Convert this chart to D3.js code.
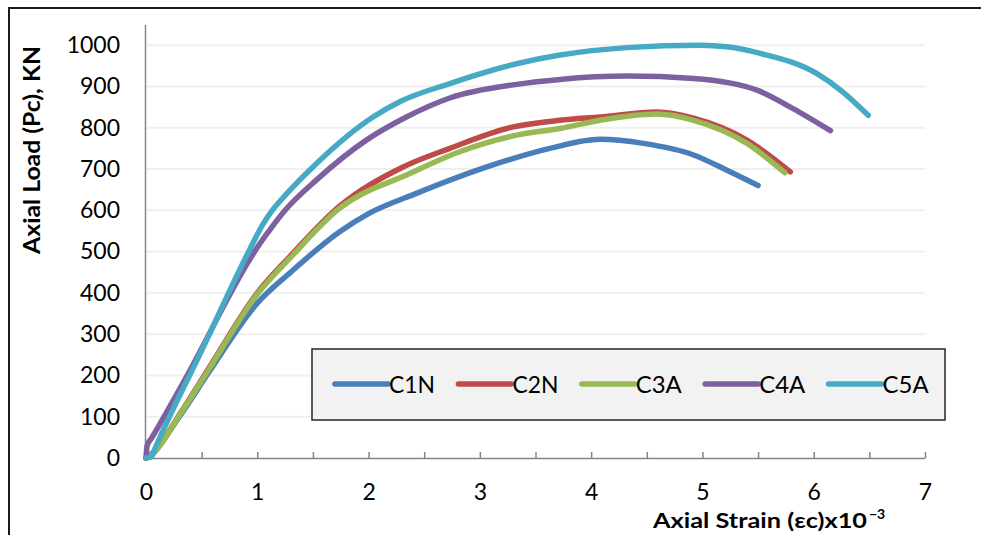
<!DOCTYPE html>
<html>
<head>
<meta charset="utf-8">
<script src="https://cdn.jsdelivr.net/npm/d3@7/dist/d3.min.js"></script>
<style>
  html, body { margin: 0; padding: 0; background: #fff; }
  svg { display: block; }
  text { font-family: Lato, "Open Sans", sans-serif; fill: #000; }
</style>
</head>
<body>
<svg id="chart" width="981" height="535"></svg>
<script>
// Axial strain (x10^-3) and axial load (kN) for each column specimen
const seriesNames = ["C1N", "C2N", "C3A", "C4A", "C5A"];
const seriesColors = ["#4a7ebb", "#be4b48", "#98b954", "#7d60a0", "#46aac5"];

const c1nStrain = [0, 0.05, 0.3, 0.57, 1.0, 1.3, 1.74, 2.0, 2.43, 3.03, 3.63, 4.08, 4.47, 4.92, 5.22, 5.5];
const c1nLoad   = [0, 10, 100, 210, 375, 450, 548, 592, 641, 702, 750, 772, 762, 734, 697, 660];

const c2nStrain = [0, 0.05, 0.3, 0.57, 1.0, 1.3, 1.74, 2.31, 2.73, 3.3, 3.72, 4.08, 4.59, 4.92, 5.4, 5.79];
const c2nLoad   = [0, 8, 105, 220, 400, 490, 610, 705, 750, 802, 818, 826, 838, 823, 770, 693];

const c3aStrain = [0, 0.05, 0.3, 0.57, 1.0, 1.3, 1.74, 2.37, 2.8, 3.33, 3.72, 4.08, 4.59, 4.92, 5.4, 5.74];
const c3aLoad   = [0, 8, 103, 217, 397, 486, 605, 689, 740, 782, 798, 818, 833, 818, 762, 691];

const c4aStrain = [0, 0.01, 0.05, 0.35, 0.93, 1.0, 1.1, 1.25, 1.53, 1.98, 2.34, 2.73, 3.33, 3.72, 4.32, 4.92, 5.49, 5.81, 6.15];
const c4aLoad   = [0, 30, 48, 190, 480, 510, 548, 600, 673, 770, 826, 872, 905, 917, 925, 919, 891, 847, 793];

const c5aStrain = [0, 0.05, 0.08, 0.5, 0.93, 1.05, 1.13, 1.25, 1.53, 2.04, 2.28, 2.73, 3.33, 3.72, 4.32, 4.98, 5.22, 5.52, 6.03, 6.26, 6.49];
const c5aLoad   = [0, 3, 22, 260, 504, 566, 598, 636, 713, 826, 863, 907, 955, 976, 994, 1000, 996, 980, 931, 887, 830];

const strainTicks = [0, 0.5, 1, 1.5, 2, 2.5, 3, 3.5, 4, 4.5, 5, 5.5, 6, 6.5, 7];
const loadTicks = [0, 100, 200, 300, 400, 500, 600, 700, 800, 900, 1000];

const strainData = [c1nStrain, c2nStrain, c3aStrain, c4aStrain, c5aStrain];
const loadData = [c1nLoad, c2nLoad, c3aLoad, c4aLoad, c5aLoad];

const series = seriesNames.map((name, i) => ({
  name,
  color: seriesColors[i],
  points: strainData[i].map((s, j) => ({ s, p: loadData[i][j] }))
}));

const svg = d3.select("#chart");

const x = d3.scaleLinear().domain([0, 7]).range([146, 925]);
const y = d3.scaleLinear().domain([0, 1050]).range([458, 24.5]);

// Outer frame (top and left edges)
svg.append("path")
  .attr("d", "M9,535 L9,8 L981,8")
  .attr("fill", "none")
  .attr("stroke", "#1a1a1a")
  .attr("stroke-width", 2);

// Horizontal gridlines
svg.append("g")
  .selectAll("line")
  .data(loadTicks.filter(d => d > 0))
  .join("line")
  .attr("x1", x(0))
  .attr("x2", x(7))
  .attr("y1", d => y(d))
  .attr("y2", d => y(d))
  .attr("stroke", "#efefef")
  .attr("stroke-width", 2);

// Y axis
const yAxis = svg.append("g")
  .attr("transform", `translate(${x(0) - 1},0)`)
  .call(d3.axisLeft(y).tickValues(loadTicks).tickSize(0).tickPadding(25).tickFormat(d3.format("d")));
yAxis.select(".domain").attr("stroke", "#868686").attr("stroke-width", 1.5);
yAxis.selectAll("text").attr("font-size", 23).style("font-family", "Lato, sans-serif");

// X axis with half-unit tick marks pointing into the plot
const xAxis = svg.append("g")
  .attr("transform", `translate(0,${y(0)})`)
  .call(d3.axisBottom(x).tickValues(strainTicks).tickSizeInner(-6).tickSizeOuter(0).tickPadding(26)
    .tickFormat(d => Number.isInteger(d) ? d : ""));
xAxis.select(".domain").attr("stroke", "#868686").attr("stroke-width", 1.5);
xAxis.selectAll(".tick line").attr("stroke", "#868686").attr("stroke-width", 1.5);
xAxis.selectAll("text").attr("font-size", 23).style("font-family", "Lato, sans-serif");

// Load-strain curves
const line = d3.line()
  .x(d => x(d.s))
  .y(d => y(d.p))
  .curve(d3.curveMonotoneX);

svg.append("g")
  .selectAll("path")
  .data(series)
  .join("path")
  .attr("d", d => line(d.points))
  .attr("fill", "none")
  .attr("stroke", d => d.color)
  .attr("stroke-width", 5.5)
  .attr("stroke-linecap", "round")
  .attr("stroke-linejoin", "round");

// Legend
const legend = svg.append("g");
legend.append("rect")
  .attr("x", 312).attr("y", 349)
  .attr("width", 633).attr("height", 71)
  .attr("fill", "#f2f2f2")
  .attr("stroke", "#262626")
  .attr("stroke-width", 1.5);

const items = legend.selectAll("g.item")
  .data(series)
  .join("g")
  .attr("class", "item")
  .attr("transform", (d, i) => `translate(${335 + i * 123.4},384)`);
items.append("line")
  .attr("x1", 0).attr("x2", 53)
  .attr("y1", 0).attr("y2", 0)
  .attr("stroke", d => d.color)
  .attr("stroke-width", 5.5)
  .attr("stroke-linecap", "round");
items.append("text")
  .attr("x", 54)
  .attr("y", 8.5)
  .attr("font-size", 23)
  .attr("textLength", 46)
  .attr("lengthAdjust", "spacingAndGlyphs")
  .text(d => d.name);

// Axis titles
svg.append("text")
  .attr("transform", "translate(40,150) rotate(-90)")
  .attr("text-anchor", "middle")
  .attr("font-size", 23)
  .attr("font-weight", "bold")
  .attr("textLength", 208)
  .attr("lengthAdjust", "spacingAndGlyphs")
  .text("Axial Load (Pc), KN");

const xTitle = svg.append("text")
  .attr("y", 528)
  .attr("font-size", 21)
  .attr("font-weight", "bold");
xTitle.append("tspan")
  .attr("x", 653)
  .attr("textLength", 214)
  .attr("lengthAdjust", "spacingAndGlyphs")
  .text("Axial Strain (εc)x10");
xTitle.append("tspan").attr("x", 869).attr("dy", -9).attr("font-size", 14).text("−3");
</script>
</body>
</html>
